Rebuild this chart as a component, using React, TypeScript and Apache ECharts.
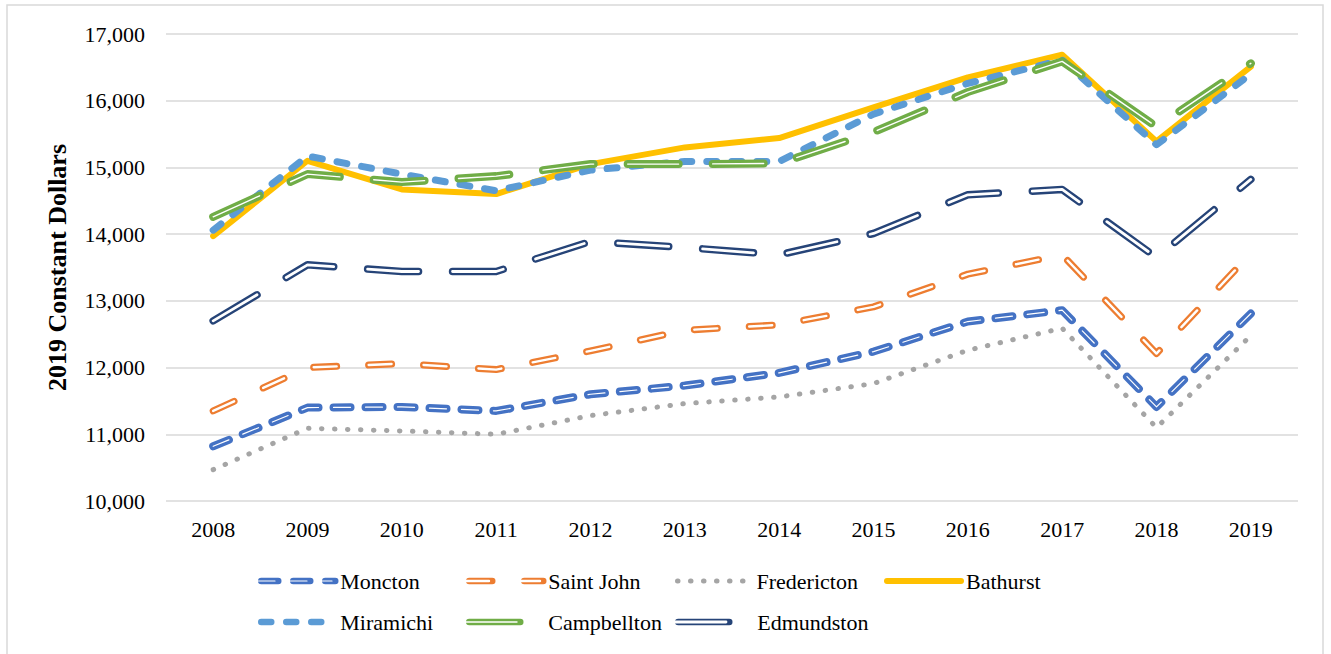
import React, { useEffect, useRef } from "react";
import * as echarts from "echarts";

const years = ["2008", "2009", "2010", "2011", "2012", "2013", "2014", "2015", "2016", "2017", "2018", "2019"];
const moncton = [10820, 11400, 11410, 11350, 11600, 11730, 11920, 12240, 12690, 12860, 11410, 12810];
const saintJohn = [11350, 12000, 12060, 11970, 12250, 12560, 12640, 12910, 13400, 13690, 12210, 13710];
const fredericton = [10470, 11090, 11050, 11000, 11280, 11460, 11560, 11760, 12260, 12590, 11100, 12480];
const bathurst = [13970, 15100, 14670, 14600, 15050, 15300, 15440, 15900, 16350, 16690, 15390, 16510];
const miramichi = [14060, 15170, 14900, 14650, 14960, 15090, 15090, 15800, 16260, 16610, 15340, 16400];
const campbellton = [14260, 14900, 14780, 14870, 15050, 15050, 15060, 15530, 16130, 16590, 15610, 16560];
const edmundston = [12700, 13540, 13440, 13440, 13890, 13800, 13690, 14010, 14590, 14670, 13650, 14820];

const yMin = 10000;
const yMax = 17000;
const yStep = 1000;

const FONT = "'Liberation Serif', 'Times New Roman', serif";

type Spec = {
  name: string;
  data: number[];
  color: string;
  width: number;
  dash: number[] | "solid";
  inner?: number;
  legendLeft: number;
  legendTop: number;
};

const specs: Spec[] = [
  { name: "Moncton", data: moncton, color: "#4472C4", width: 8, dash: [17, 15], inner: 1.2, legendLeft: 258, legendTop: 570 },
  { name: "Saint John", data: saintJohn, color: "#ED7D31", width: 7, dash: [23, 32], inner: 2.4, legendLeft: 466, legendTop: 570 },
  { name: "Fredericton", data: fredericton, color: "#A5A5A5", width: 5, dash: [0.5, 12.5], legendLeft: 675, legendTop: 570 },
  { name: "Bathurst", data: bathurst, color: "#FFC000", width: 6, dash: "solid", legendLeft: 884, legendTop: 570 },
  { name: "Miramichi", data: miramichi, color: "#5B9BD5", width: 7, dash: [10, 15], legendLeft: 258, legendTop: 611 },
  { name: "Campbellton", data: campbellton, color: "#70AD47", width: 8, dash: [51, 34], inner: 1.4, legendLeft: 466, legendTop: 611 },
  { name: "Edmundston", data: edmundston, color: "#264478", width: 7.5, dash: [51, 34], inner: 2.8, legendLeft: 675, legendTop: 611 },
];

export default function App() {
  const ref = useRef<HTMLDivElement>(null);

  useEffect(() => {
    if (!ref.current) return;
    const chart = echarts.init(ref.current, undefined, { renderer: "svg" });

    const series: any[] = [];
    const legends: any[] = [];
    const graphics: any[] = [
      {
        type: "rect",
        silent: true,
        z: -10,
        shape: { x: 7, y: 5, width: 1316, height: 700 },
        style: { fill: "none", stroke: "#d9d9d9", lineWidth: 1.5 },
      },
    ];
    specs.forEach((s, i) => {
      const ls = { color: s.color, width: s.width, type: s.dash, cap: "round", join: "round" };
      series.push({
        type: "line",
        name: s.name,
        data: s.data,
        symbol: "none",
        silent: true,
        z: 2 + i * 2,
        itemStyle: { color: s.color },
        lineStyle: ls,
        emphasis: { disabled: true },
      });
      legends.push({
        left: s.legendLeft,
        top: s.legendTop,
        padding: 0,
        itemWidth: 74,
        itemHeight: 14,
        itemGap: 0,
        selectedMode: false,
        itemStyle: { opacity: 0 },
        lineStyle: { ...ls, width: Math.min(s.width, 6.5), opacity: 1 },
        textStyle: { fontFamily: FONT, fontSize: 22, color: "#000", lineHeight: 22 },
        data: [s.name],
      });
      if (s.inner) {
        const ils = { color: "#ffffff", width: s.inner, type: s.dash, cap: "round", join: "round" };
        series.push({
          type: "line",
          name: s.name + " inner",
          data: s.data,
          symbol: "none",
          silent: true,
          z: 3 + i * 2,
          itemStyle: { color: "#ffffff" },
          lineStyle: ils,
          emphasis: { disabled: true },
        });
        graphics.push({
          type: "line",
          silent: true,
          z: 100,
          shape: { x1: s.legendLeft, y1: s.legendTop + 11, x2: s.legendLeft + 74, y2: s.legendTop + 11 },
          style: {
            stroke: "#ffffff",
            lineWidth: s.inner,
            lineCap: "round",
            lineDash: s.dash === "solid" ? null : s.dash,
          },
        });
      }
    });

    chart.setOption({
      animation: false,
      backgroundColor: "#ffffff",
      grid: { left: 166, right: 33, top: 34, bottom: 153, containLabel: false },
      legend: legends,
      graphic: graphics,
      xAxis: {
        type: "category",
        data: years,
        boundaryGap: true,
        axisLine: { show: false },
        axisTick: { show: false },
        splitLine: { show: false },
        axisLabel: { fontFamily: FONT, fontSize: 22, color: "#000", margin: 17 },
      },
      yAxis: {
        type: "value",
        min: yMin,
        max: yMax,
        interval: yStep,
        axisLine: { show: false },
        axisTick: { show: false },
        splitLine: { lineStyle: { color: "#d9d9d9", width: 1.5 } },
        axisLabel: {
          fontFamily: FONT,
          fontSize: 22,
          color: "#000",
          margin: 21,
          formatter: (v: number) => v.toLocaleString("en-US"),
        },
        name: "2019 Constant Dollars",
        nameLocation: "middle",
        nameRotate: 90,
        nameGap: 96,
        nameTextStyle: { fontFamily: FONT, fontSize: 26, fontWeight: "bold", color: "#000" },
      },
      series,
    });

    return () => chart.dispose();
  }, []);

  return (
    <div
      ref={ref}
      style={{ position: "fixed", left: 0, top: 0, width: 1331, height: 654, background: "#fff" }}
    />
  );
}
